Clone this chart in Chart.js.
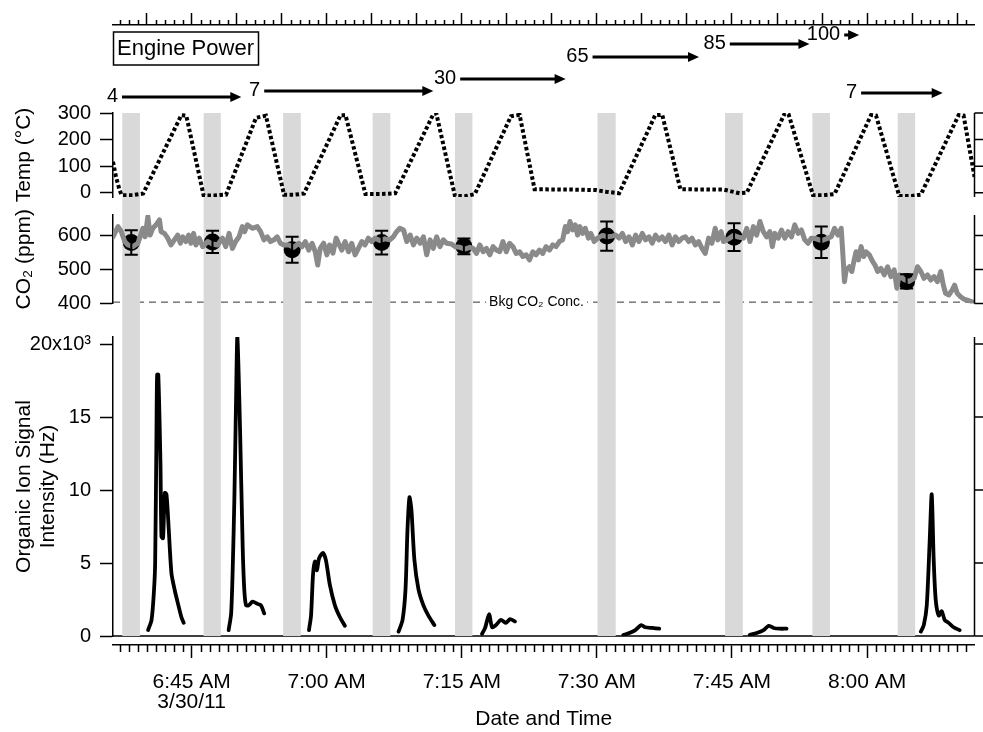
<!DOCTYPE html>
<html><head><meta charset="utf-8">
<script src="https://cdn.jsdelivr.net/npm/chart.js@4.4.1/dist/chart.umd.min.js"></script>
<style>html,body{margin:0;padding:0;background:#fff;}canvas{display:block;}</style>
</head><body>
<canvas id="c" width="983" height="732"></canvas>
<script>
// ---------- DATA (time = minutes after 6:00 AM, 3/30/11) ----------
const xMin = 36.27, xMax = 131.93;
const xTickValues = [45, 60, 75, 90, 105, 120];
const xTickLabels = [['6:45 AM', '3/30/11'], '7:00 AM', '7:15 AM', '7:30 AM', '7:45 AM', '8:00 AM'];
const topTickValues = [40,45,50,55,60,65,70,75,80,85,90,95,100,105,110,115,120,125,130];
const tempTicks = [0, 100, 200, 300];
const co2Ticks = [400, 500, 600];
const orgTicks = [0, 5000, 10000, 15000, 20000];
const orgTickLabels = ['0', '5', '10', '15', '20x10³'];

const bandStart = [37.30, 46.33, 55.16, 65.10, 74.24, 90.07, 104.24, 113.93, 123.40];
const bandEnd   = [39.26, 48.24, 57.12, 67.06, 76.18, 92.09, 106.20, 115.88, 125.34];

const powerLabels = ['4', '7', '30', '65', '85', '100', '7'];
const powerStart  = [37.27, 53.06, 74.82, 89.52, 104.76, 117.46, 119.34];
const powerEnd    = [50.52, 71.84, 86.53, 101.34, 113.60, 119.12, 128.40];

const tempTime = [36.27,36.6,37.0,37.23,38.5,39.62,43.86,44.41,46.33,47.5,48.83,52.15,53.25,55.27,56.3,57.48,61.54,62.09,64.3,66.0,67.61,71.84,72.17,74.24,75.5,76.45,80.46,81.42,83.08,87.0,89.88,91.0,92.47,96.48,97.25,99.27,104.06,105.86,106.64,110.84,111.28,114.0,115.2,116.39,120.44,121.0,123.57,125.0,125.97,130.17,130.72,131.93];
const tempValue = [117,60,10,-9,-9,-3,292,290,-10,-10,-7,282,290,-8,-8,-3,292,292,-5,-5,-2,296,298,-12,-12,-5,288,293,13,12,10,4,-2,292,294,13,12,-2,0,297,296,-9,-9,-5,292,290,-12,-12,-7,292,290,60];

const co2Time = [36.27,36.83,37.19,37.57,37.93,38.48,39.04,39.22,39.59,39.84,40.14,40.39,40.69,41.06,41.43,41.61,41.98,42.35,42.71,43.09,43.45,43.75,44.01,44.37,44.67,44.92,45.22,45.48,45.85,46.22,46.77,47.32,47.87,48.42,48.79,49.16,49.53,49.89,50.27,50.63,50.89,51.19,51.74,52.29,52.66,53.03,53.40,53.76,54.14,54.50,54.86,55.24,55.79,56.34,56.90,57.26,57.63,58.00,58.37,58.73,59.00,59.28,59.66,60.02,60.32,60.69,61.05,61.31,61.68,62.04,62.42,62.78,63.15,63.52,63.89,64.25,64.63,64.99,65.36,65.91,66.46,67.01,67.39,67.76,68.12,68.53,68.89,69.27,69.63,70.00,70.37,70.74,71.10,71.48,71.84,72.21,72.58,72.95,73.31,73.86,74.24,74.79,75.34,75.90,76.26,76.63,77.00,77.37,77.73,78.11,78.47,78.83,79.21,79.57,79.94,80.31,80.68,81.04,81.42,81.78,82.15,82.52,82.89,83.25,83.63,83.99,84.36,84.73,85.10,85.46,85.84,86.20,86.50,86.75,87.01,87.31,87.60,87.86,88.11,88.41,88.71,89.07,89.33,89.70,90.07,90.62,91.17,91.73,92.09,92.47,92.83,93.20,93.57,93.94,94.30,94.67,95.04,95.40,95.78,96.14,96.51,96.88,97.25,97.61,97.99,98.35,98.72,99.09,99.46,99.82,100.20,100.56,100.93,101.30,101.67,102.03,102.41,102.77,103.14,103.43,103.80,104.06,104.62,105.17,105.72,106.27,106.64,107.00,107.38,107.74,108.11,108.48,108.85,109.21,109.48,109.77,110.14,110.50,110.87,111.24,111.61,111.97,112.35,112.71,113.08,113.45,113.81,114.37,114.92,115.47,116.02,116.39,116.77,117.13,117.32,117.49,117.68,118.04,118.31,118.53,118.78,119.04,119.34,119.64,119.89,120.25,120.63,120.88,121.18,121.54,121.91,122.28,122.65,123.01,123.31,123.57,124.12,124.67,125.23,125.60,125.97,126.33,126.71,127.07,127.44,127.81,128.18,128.47,128.72,129.09,129.46,129.72,130.01,130.38,130.74,131.12,131.67,131.93];
const co2Value = [596,626,611,582,572,567,577,592,621,596,655,601,621,631,646,611,606,592,572,587,601,577,596,582,601,577,606,572,592,567,582,575,572,592,567,606,562,582,596,626,611,631,621,626,611,587,596,582,587,596,577,572,572,565,577,567,582,557,577,552,513,562,577,543,572,548,592,577,557,582,552,577,543,562,582,572,592,582,592,585,590,587,596,611,621,616,582,601,572,592,577,596,543,587,562,596,567,587,577,575,567,565,560,565,562,547,572,552,562,543,567,557,552,582,552,577,567,547,552,538,543,528,552,543,557,547,567,557,572,567,582,587,626,611,641,616,631,601,626,606,621,592,606,582,592,600,596,598,601,592,606,582,596,572,601,582,606,587,596,577,601,587,596,582,601,572,596,582,592,596,582,592,572,582,562,547,592,577,621,587,611,582,590,600,595,592,621,582,626,601,641,611,596,611,567,606,592,616,592,611,596,631,606,616,587,577,592,590,585,590,596,621,601,621,543,464,499,508,494,523,552,528,567,538,552,543,523,513,494,503,484,508,479,499,445,484,470,465,474,508,494,474,484,469,479,464,494,454,430,425,440,454,430,420,413,410,405,402];

const co2AvgTime  = [38.30, 47.32, 56.16, 66.10, 75.23, 91.09, 105.23, 114.92, 124.39];
const co2AvgValue = [579, 581, 558, 579, 568, 598, 595, 580, 465];
const co2AvgErr   = [36, 33, 38, 35, 23, 43, 41, 46, 21];
const bkgCO2 = 404;
const bkgLabel = 'Bkg CO₂ Conc.';
const bkgLabelTime = 83.3;

const orgTime = [40.17,40.55,40.80,40.95,41.10,41.17,41.30,41.54,41.65,41.83,42.02,42.21,42.46,42.76,43.12,43.49,43.86,44.12, 44.5,
  49.11,49.39,49.58,49.75,49.94,50.08,50.38,50.67,50.85,51.04,51.33,51.77,52.32,52.70,53.06, 53.5,
  58.03,58.26,58.48,58.70,58.92,59.14,59.58,59.91,60.35,60.91,61.46,62.01, 62.5,
  67.98,68.42,68.75,68.97,69.19,69.41,69.74,70.19,70.74,71.29,71.95, 72.5,
  77.25,77.59,78.03,78.36,78.80,79.35,79.91,80.35,80.90, 81.5,
  92.94,93.60,94.27,94.93,95.37,96.14,96.92, 97.5,
  106.97,107.74,108.51,109.06,109.62,110.28,111.06, 111.5,
  125.97,126.30,126.63,126.96,127.18,127.40,127.62,127.96,128.29,128.62,129.06,129.61,130.28];
const orgValue = [410,1100,2900,5000,14100,17900,17900,11800,6800,6700,9800,9700,7300,4300,3150,2200,1300,900, null,
  400,1550,5000,9500,16400,20500,14100,6100,3150,2100,2100,2350,2200,2100,1550, null,
  400,1400,4200,5100,4500,5300,5700,5200,3500,2100,1300,700, null,
  300,1100,3200,7300,9500,8600,5200,3200,2100,1400,750, null,
  150,550,1500,600,750,1100,900,1150,1000, null,
  70,200,400,750,600,550,500, null,
  70,200,400,700,550,500,500, null,
  300,750,2100,6600,9700,5200,2500,1400,1700,1100,900,600,400];

// ---------- CHART ----------
const FONT = "'Liberation Sans', Arial, Helvetica, sans-serif";
Chart.defaults.font.family = FONT;
Chart.defaults.color = '#000';

const pts = (xs, ys) => xs.map((t, i) => ({x: t, y: ys[i]}));
const LEFT_W = 113;

function yAxis(weight, stackWeight, min, max, ticks, title, labelFn) {
  return {
    type: 'linear', position: 'left', stack: 'L', stackWeight, weight,
    min, max, display: true,
    afterBuildTicks: s => { s.ticks = ticks.map(v => ({value: v})); },
    afterFit: s => { s.width = LEFT_W; },
    ticks: { font: {size: 20}, padding: 9, color: '#000', autoSkip: false,
             callback: labelFn || (v => String(v)) },
    grid: { drawOnChartArea: false, drawTicks: true, tickLength: 13, tickWidth: 1.5, tickColor: '#000' },
    border: { display: true, color: '#000', width: 1.5 },
    title: { display: true, text: title, font: {size: 21, lineHeight: 1.15}, padding: {top: 12, bottom: 0}, color: '#000' }
  };
}
function spacer(weight, stackWeight) {
  return {
    type: 'linear', position: 'left', stack: 'L', stackWeight, weight, display: true, min: 0, max: 1,
    afterFit: s => { s.width = LEFT_W; },
    ticks: { display: false }, grid: { display: false }, border: { display: false }, title: { display: false }
  };
}

const panelPlugin = {
  id: 'panels',
  beforeDatasetsDraw(chart) {
    const {ctx, chartArea: ca, scales} = chart;
    const x = scales.x, yT = scales.yT, yC = scales.yC, yO = scales.yO;
    ctx.save();
    ctx.strokeStyle = '#000'; ctx.lineWidth = 1.5;
    const y0 = yO.getPixelForValue(0);
    ctx.beginPath(); ctx.moveTo(ca.left, y0); ctx.lineTo(ca.right, y0); ctx.stroke();
    const yb = yC.getPixelForValue(bkgCO2);
    ctx.setLineDash([7, 5]); ctx.lineWidth = 1; ctx.strokeStyle = '#333';
    ctx.beginPath(); ctx.moveTo(ca.left, yb); ctx.lineTo(ca.right, yb); ctx.stroke();
    ctx.setLineDash([]);
    ctx.font = '14px ' + FONT;
    const lx = x.getPixelForValue(bkgLabelTime);
    const w = ctx.measureText(bkgLabel).width;
    ctx.fillStyle = '#fff'; ctx.fillRect(lx - w / 2 - 3, yb - 9, w + 6, 18);
    ctx.fillStyle = '#000'; ctx.textAlign = 'center'; ctx.textBaseline = 'middle';
    ctx.fillText(bkgLabel, lx, yb);
    ctx.fillStyle = '#d9d9d9';
    for (let i = 0; i < bandStart.length; i++) {
      const x1 = x.getPixelForValue(bandStart[i]), x2 = x.getPixelForValue(bandEnd[i]);
      ctx.fillRect(x1, yT.top, x2 - x1, yO.bottom - yT.top);
    }
    ctx.restore();
  },
  afterDatasetsDraw(chart) {
    const {ctx, scales} = chart;
    const x = scales.x, yC = scales.yC;
    ctx.save();
    ctx.strokeStyle = '#000'; ctx.lineWidth = 2;
    for (let i = 0; i < co2AvgTime.length; i++) {
      const px = x.getPixelForValue(co2AvgTime[i]);
      const yt = yC.getPixelForValue(co2AvgValue[i] + co2AvgErr[i]);
      const yb = yC.getPixelForValue(co2AvgValue[i] - co2AvgErr[i]);
      ctx.beginPath();
      ctx.moveTo(px, yt); ctx.lineTo(px, yb);
      ctx.moveTo(px - 6.5, yt); ctx.lineTo(px + 6.5, yt);
      ctx.moveTo(px - 6.5, yb); ctx.lineTo(px + 6.5, yb);
      ctx.stroke();
    }
    ctx.restore();
  },
  afterDraw(chart) {
    const {ctx, chartArea: ca, scales} = chart;
    const x = scales.x;
    ctx.save();
    ctx.strokeStyle = '#000'; ctx.fillStyle = '#000'; ctx.lineWidth = 1.5;
    for (let m = Math.ceil(xMin); m <= xMax; m++) {
      const px = Math.round(x.getPixelForValue(m)) + 0.5;
      ctx.beginPath();
      if (!xTickValues.includes(m)) { ctx.moveTo(px, ca.bottom); ctx.lineTo(px, ca.bottom + 7); }
      if (!topTickValues.includes(m)) { ctx.moveTo(px, ca.top); ctx.lineTo(px, ca.top - 5); }
      ctx.stroke();
    }
    [[scales.yT, tempTicks], [scales.yC, co2Ticks], [scales.yO, orgTicks]].forEach(([s, tk]) => {
      ctx.beginPath();
      ctx.moveTo(ca.right, s.top); ctx.lineTo(ca.right, s.bottom);
      tk.forEach(v => { const py = s.getPixelForValue(v); ctx.moveTo(ca.right, py); ctx.lineTo(ca.right + 13, py); });
      ctx.stroke();
    });
    ctx.lineWidth = 1.5;
    ctx.strokeRect(ca.left + 0.5, 32, 145, 33);
    ctx.font = '22px ' + FONT; ctx.textAlign = 'left'; ctx.textBaseline = 'middle';
    ctx.fillText('Engine Power', ca.left + 4, 49);
    const rowY = [97, 91, 79, 57, 44, 35, 93];
    ctx.font = '20px ' + FONT; ctx.textAlign = 'right';
    for (let i = 0; i < powerLabels.length; i++) {
      const xs = x.getPixelForValue(powerStart[i]), xe = x.getPixelForValue(powerEnd[i]), yy = rowY[i];
      ctx.fillText(powerLabels[i], xs - 4, yy - 1);
      ctx.lineWidth = 3;
      ctx.beginPath(); ctx.moveTo(xs, yy); ctx.lineTo(xe - 8, yy); ctx.stroke();
      ctx.beginPath(); ctx.moveTo(xe, yy); ctx.lineTo(xe - 11, yy - 5); ctx.lineTo(xe - 11, yy + 5); ctx.closePath(); ctx.fill();
    }
    ctx.restore();
  }
};

new Chart(document.getElementById('c'), {
  type: 'line',
  data: {
    datasets: [
      { label: 'Temp', data: pts(tempTime, tempValue), yAxisID: 'yT', borderColor: '#000', borderWidth: 4,
        borderDash: [3.5, 2.5], pointRadius: 0, tension: 0, fill: false },
      { label: 'CO2', data: pts(co2Time, co2Value), yAxisID: 'yC', borderColor: '#8a8a8a', borderWidth: 5,
        pointRadius: 0, tension: 0, fill: false, borderJoinStyle: 'round', borderCapStyle: 'round' },
      { label: 'CO2 avg', data: pts(co2AvgTime, co2AvgValue), yAxisID: 'yC', showLine: false,
        pointRadius: 8.5, pointHoverRadius: 8.5, pointBackgroundColor: '#000', pointBorderWidth: 0, borderColor: '#000' },
      { label: 'Organic', data: pts(orgTime, orgValue), yAxisID: 'yO', borderColor: '#000', borderWidth: 3.8,
        pointRadius: 0, tension: 0.25, spanGaps: false, fill: false, borderJoinStyle: 'round', borderCapStyle: 'round' }
    ]
  },
  options: {
    responsive: false, animation: false, devicePixelRatio: 1,
    layout: { padding: { left: 0, right: 4, top: 0, bottom: 0 } },
    plugins: { legend: { display: false }, tooltip: { enabled: false } },
    scales: {
      x: {
        type: 'linear', position: 'bottom', min: xMin, max: xMax,
        afterBuildTicks: s => { s.ticks = xTickValues.map(v => ({value: v})); },
        afterFit: s => { s.height = 87; },
        ticks: { autoSkip: false, maxRotation: 0, minRotation: 0, padding: 14, color: '#000',
                 font: {size: 21, lineHeight: 0.95},
                 callback: v => { const i = xTickValues.indexOf(v); return i >= 0 ? xTickLabels[i] : ''; } },
        grid: { drawOnChartArea: false, drawTicks: true, tickLength: 13, tickWidth: 1.5, tickColor: '#000' },
        border: { display: true, color: '#000', width: 1.5 },
        title: { display: true, text: 'Date and Time', font: {size: 21}, padding: {top: 0, bottom: 0}, color: '#000' }
      },
      x2: {
        type: 'linear', position: 'top', min: xMin, max: xMax,
        afterBuildTicks: s => { s.ticks = topTickValues.map(v => ({value: v})); },
        afterFit: s => { s.height = 25; },
        ticks: { display: false },
        grid: { drawOnChartArea: false, drawTicks: true, tickLength: 12, tickWidth: 1.5, tickColor: '#000' },
        border: { display: true, color: '#000', width: 1.5 }
      },
      sp0: spacer(7, 88),
      yT: yAxis(6, 84, -16, 300, tempTicks, 'Temp (°C)'),
      sp1: spacer(5, 18),
      yC: yAxis(4, 88.5, 400, 660, co2Ticks, 'CO₂ (ppm)'),
      sp2: spacer(3, 33.5),
      yO: yAxis(2, 299, 0, 20480, orgTicks, ['Organic Ion Signal', 'Intensity (Hz)'],
                v => { const i = orgTicks.indexOf(v); return i >= 0 ? orgTickLabels[i] : ''; }),
      sp3: spacer(1, 9)
    }
  },
  plugins: [panelPlugin]
});
</script>
</body></html>
